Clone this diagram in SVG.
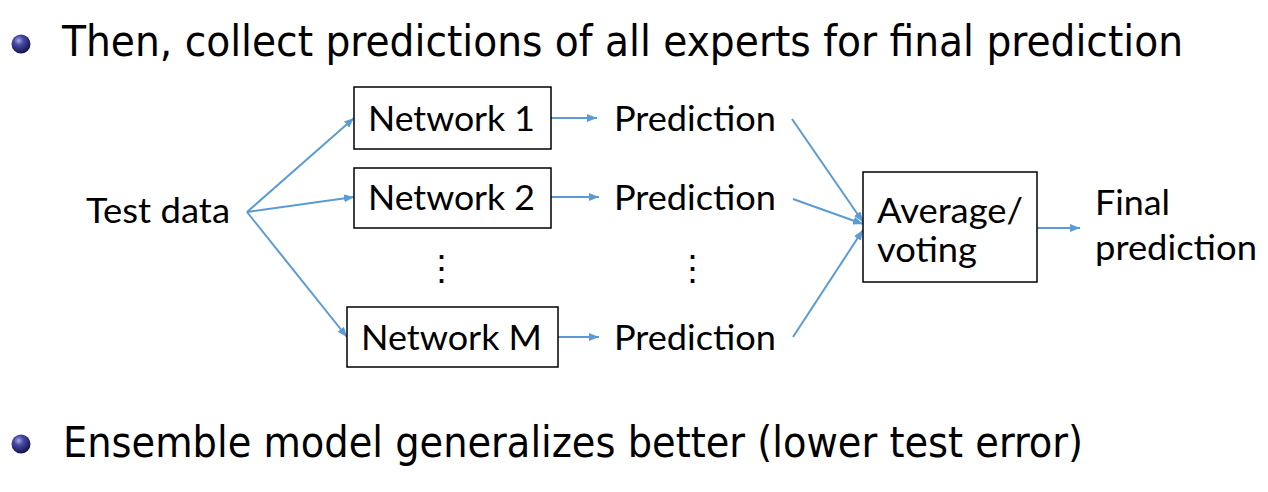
<svg xmlns="http://www.w3.org/2000/svg" width="1268" height="492" viewBox="0 0 1268 492">
<defs>
<radialGradient id="ball" cx="0.38" cy="0.32" r="0.7">
<stop offset="0" stop-color="#a8a8e8"/>
<stop offset="0.35" stop-color="#4a4aa8"/>
<stop offset="1" stop-color="#10104a"/>
</radialGradient>
<marker id="ah" viewBox="0 0 10 8" refX="10" refY="4" markerWidth="10" markerHeight="8" markerUnits="userSpaceOnUse" orient="auto">
<path d="M0,0 L10,4 L0,8 Z" fill="#5B9BD5"/>
</marker>
<style>
.bul{font-family:"DejaVu Sans Condensed","DejaVu Sans",sans-serif;font-size:43px;fill:#000}
.lbl{font-family:Lato,"Liberation Sans",sans-serif;font-size:35px;fill:#000}
.box{fill:#fff;stroke:#000;stroke-width:1.5}
.con{stroke:#5B9BD5;stroke-width:2;fill:none;marker-end:url(#ah)}
</style>
</defs>
<rect width="1268" height="492" fill="#fff"/>
<g id="bullet1">
<circle cx="21" cy="44" r="9.5" fill="url(#ball)"/>
<text class="bul" x="62" y="56" textLength="1121" lengthAdjust="spacingAndGlyphs">Then, collect predictions of all experts for final prediction</text>
</g>
<g id="bullet2">
<circle cx="21" cy="444" r="9.5" fill="url(#ball)"/>
<text class="bul" x="63" y="457" textLength="1020" lengthAdjust="spacingAndGlyphs">Ensemble model generalizes better (lower test error)</text>
</g>
<g id="connectors">
<line class="con" x1="247" y1="212" x2="354" y2="118"/>
<line class="con" x1="247" y1="212" x2="354" y2="197"/>
<line class="con" x1="247" y1="212" x2="347" y2="337"/>
<line class="con" x1="551" y1="118" x2="597" y2="118"/>
<line class="con" x1="551" y1="197" x2="599" y2="197"/>
<line class="con" x1="558" y1="337" x2="599" y2="337"/>
<line class="con" x1="792" y1="119" x2="863" y2="222"/>
<line class="con" x1="793" y1="199" x2="863" y2="224"/>
<line class="con" x1="793" y1="337" x2="863" y2="230"/>
<line class="con" x1="1037" y1="228" x2="1080" y2="228"/>
</g>
<g id="test-data">
<text class="lbl" x="86" y="223" textLength="144" lengthAdjust="spacingAndGlyphs">Test data</text>
</g>
<g id="network1">
<rect class="box" x="354" y="87" width="197" height="62"/>
<text class="lbl" x="368" y="131" textLength="167" lengthAdjust="spacingAndGlyphs">Network 1</text>
</g>
<g id="network2">
<rect class="box" x="354" y="168" width="197" height="60"/>
<text class="lbl" x="368" y="210" textLength="167" lengthAdjust="spacingAndGlyphs">Network 2</text>
</g>
<g id="dots1">
<text class="lbl" x="441" y="280" text-anchor="middle">⋮</text>
</g>
<g id="networkM">
<rect class="box" x="347" y="307" width="211" height="60"/>
<text class="lbl" x="361" y="350" textLength="181" lengthAdjust="spacingAndGlyphs">Network M</text>
</g>
<g id="prediction1">
<text class="lbl" x="614" y="131" textLength="162" lengthAdjust="spacingAndGlyphs">Prediction</text>
</g>
<g id="prediction2">
<text class="lbl" x="614" y="210" textLength="162" lengthAdjust="spacingAndGlyphs">Prediction</text>
</g>
<g id="dots2">
<text class="lbl" x="692" y="280" text-anchor="middle">⋮</text>
</g>
<g id="predictionM">
<text class="lbl" x="614" y="350" textLength="162" lengthAdjust="spacingAndGlyphs">Prediction</text>
</g>
<g id="average">
<rect class="box" x="863" y="172" width="174" height="110"/>
<text class="lbl" x="877" y="223" textLength="146" lengthAdjust="spacingAndGlyphs">Average/</text>
<text class="lbl" x="877" y="262" textLength="100" lengthAdjust="spacingAndGlyphs">voting</text>
</g>
<g id="final">
<text class="lbl" x="1095" y="215" textLength="75" lengthAdjust="spacingAndGlyphs">Final</text>
<text class="lbl" x="1095" y="260" textLength="162" lengthAdjust="spacingAndGlyphs">prediction</text>
</g>
</svg>
